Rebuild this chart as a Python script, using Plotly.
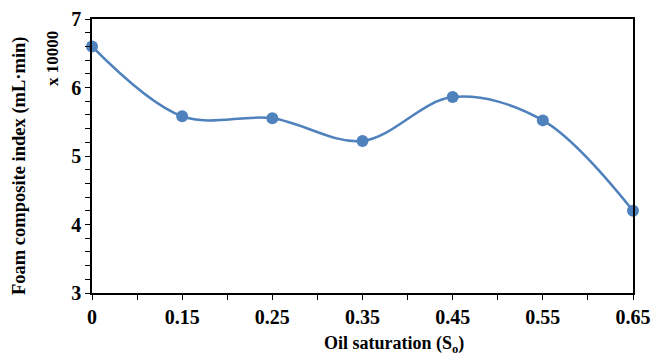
import plotly.graph_objects as go

# Oil saturation levels and foam composite index (in units of 10000 mL·min)
saturation_labels = ["0", "0.15", "0.25", "0.35", "0.45", "0.55", "0.65"]
foam_index = [6.60, 5.58, 5.55, 5.22, 5.86, 5.52, 4.20]

x_pos = list(range(len(saturation_labels)))

FONT = "Liberation Serif"
BLUE = "#4F81BD"

fig = go.Figure()
fig.add_trace(go.Scatter(
    x=x_pos,
    y=foam_index,
    mode="lines+markers",
    line=dict(color=BLUE, width=2.5, shape="spline", smoothing=1.0),
    marker=dict(color=BLUE, size=12),
    cliponaxis=False,
    showlegend=False,
))

axis_common = dict(
    showline=True,
    linecolor="black",
    linewidth=1.5,
    mirror=True,
    showgrid=False,
    zeroline=False,
    automargin=False,
    ticks="outside",
    ticklen=5,
    tickwidth=1.3,
    tickcolor="black",
    tickfont=dict(family=FONT, size=20, color="black", weight="bold"),
)

fig.update_xaxes(
    **axis_common,
    range=[0, len(saturation_labels) - 1],
    tickvals=x_pos,
    ticktext=saturation_labels,
    minor=dict(dtick=0.5, tick0=0, ticks="outside", ticklen=5, tickwidth=1.3, tickcolor="black"),
)
fig.update_yaxes(
    **axis_common,
    range=[3, 7],
    dtick=1,
    minor=dict(dtick=0.2, ticks="outside", ticklen=5, tickwidth=1.3, tickcolor="black"),
)

# Axis titles placed as annotations
fig.add_annotation(
    text="Oil saturation (S<sub>o</sub>)",
    xref="paper", yref="paper", x=(394 - 92) / (633 - 92), y=-(344 - 293) / (293 - 19),
    showarrow=False, xanchor="center", yanchor="middle",
    font=dict(family=FONT, size=18, color="black", weight="bold"),
)
fig.add_annotation(
    text="Foam composite index (mL·min)",
    xref="paper", yref="paper", x=-(92 - 19) / (633 - 92), y=(293 - 166) / (293 - 19),
    showarrow=False, textangle=-90, xanchor="center", yanchor="middle",
    font=dict(family=FONT, size=18.5, color="black", weight="bold"),
)
fig.add_annotation(
    text="x 10000",
    xref="paper", yref="paper", x=-(92 - 52) / (633 - 92), y=(293 - 59) / (293 - 19),
    showarrow=False, textangle=-90, xanchor="center", yanchor="middle",
    font=dict(family=FONT, size=17, color="black", weight="bold"),
)

fig.update_layout(
    width=651,
    height=357,
    margin=dict(l=92, r=18, t=19, b=64, autoexpand=False),
    paper_bgcolor="white",
    plot_bgcolor="white",
)

fig.write_html("out.html")
